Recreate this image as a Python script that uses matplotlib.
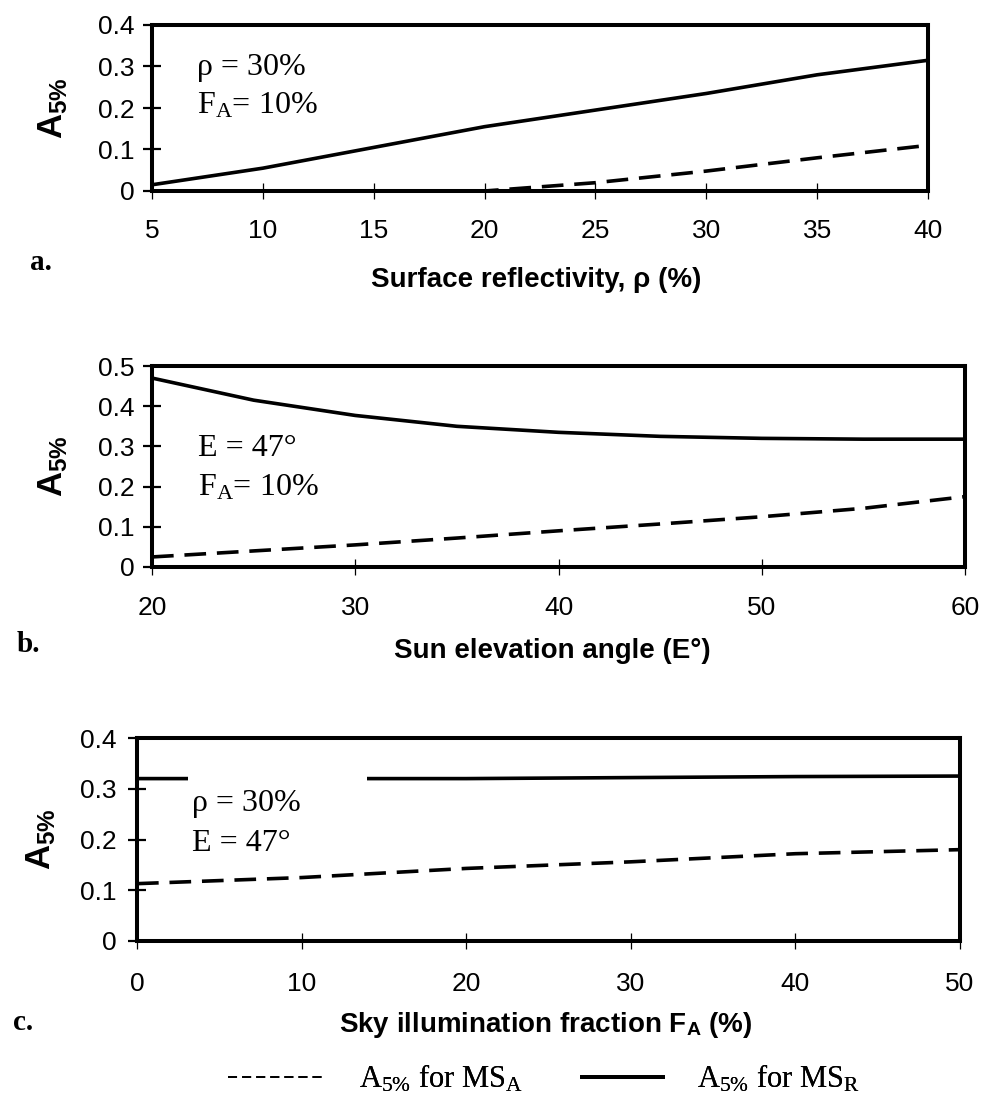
"""
A5% sensitivity curves for the MS_A and MS_R detection schemes:
(a) surface reflectivity, (b) sun elevation, (c) sky illumination fraction.
"""

import matplotlib
matplotlib.use("Agg")
import matplotlib.pyplot as plt
import matplotlib as mpl
from matplotlib.lines import Line2D
from matplotlib.patches import Rectangle
from matplotlib.ticker import FuncFormatter

mpl.rcParams.update({
    'font.family': 'Liberation Sans',
    'mathtext.fontset': 'custom',
    'mathtext.rm': 'Liberation Serif',
    'mathtext.it': 'Liberation Serif:italic',
    'mathtext.bf': 'Liberation Sans:bold',
    'mathtext.sf': 'Liberation Sans',
    'axes.linewidth': 2.9,
})

# (a) surface reflectivity, rho (%)
refl = [5, 10, 15, 20, 25, 30, 35, 40]
refl_ms_r = [0.015, 0.055, 0.105, 0.155, 0.195, 0.235, 0.28, 0.315]
refl_ms_a = [0.0, 0.0, 0.0, 0.0, 0.02, 0.048, 0.08, 0.11]

# (b) sun elevation angle (deg)
elev = [20, 25, 30, 35, 40, 45, 50, 55, 60]
elev_ms_r = [0.47, 0.415, 0.377, 0.35, 0.335, 0.325, 0.32, 0.318, 0.318]
elev_ms_a = [0.025, 0.04, 0.055, 0.072, 0.09, 0.107, 0.125, 0.146, 0.175]

# (c) sky illumination fraction F_A (%)
sky = [0, 10, 20, 30, 40, 50]
sky_ms_r = [0.32, 0.32, 0.32, 0.322, 0.324, 0.325]
sky_ms_a = [0.113, 0.125, 0.143, 0.156, 0.172, 0.18]

W, H = 983, 1104
SERIF = 'Liberation Serif'
DASH = (6, 3)
NOTE_SIZE = 23


def fmt_tick(v, pos):
    return '0' if abs(v) < 1e-9 else f'{v:.1f}'


def style_axes(ax, xticks, ymax, ypad, xpad):
    ax.set_xlim(xticks[0], xticks[-1])
    ax.set_ylim(0, ymax)
    ax.set_xticks(xticks)
    ax.set_yticks([round(0.1 * i, 1) for i in range(int(round(ymax * 10)) + 1)])
    ax.yaxis.set_major_formatter(FuncFormatter(fmt_tick))
    ax.tick_params(axis='y', direction='inout', length=13, width=1.6,
                   pad=ypad, labelsize=19)
    ax.tick_params(axis='x', direction='inout', length=12, width=0.9,
                   pad=xpad, labelsize=19)
    for sp in ax.spines.values():
        sp.set_color('black')
        sp.set_zorder(3.5)


def draw_curves(ax, x, ms_a, ms_r):
    ax.plot(x, ms_r, color='black', lw=2.6, solid_capstyle='butt')
    ax.plot(x, ms_a, color='black', lw=2.6, dashes=DASH)


fig = plt.figure(figsize=(W / 100, H / 100), dpi=100)

ax_a = fig.add_axes([152 / W, 1 - 191 / H, 776 / W, 166 / H])
ax_b = fig.add_axes([152 / W, 1 - 567 / H, 813 / W, 201 / H])
ax_c = fig.add_axes([137 / W, 1 - 941 / H, 823 / W, 203 / H])

# panel a
draw_curves(ax_a, refl, refl_ms_a, refl_ms_r)
style_axes(ax_a, [5, 10, 15, 20, 25, 30, 35, 40], 0.4, 6, 14)
ax_a.text(0.058, 0.70, 'ρ = 30%', family=SERIF, fontsize=NOTE_SIZE,
          transform=ax_a.transAxes, va='baseline')
ax_a.text(0.058, 0.467, r'F$_{\rm A}$= 10%', family=SERIF, fontsize=NOTE_SIZE,
          transform=ax_a.transAxes, va='baseline')
ax_a.set_xlabel('Surface reflectivity, ρ (%)', fontsize=20, fontweight='bold')
ax_a.xaxis.set_label_coords(0.495, -0.46)

# panel b
draw_curves(ax_b, elev, elev_ms_a, elev_ms_r)
style_axes(ax_b, [20, 30, 40, 50, 60], 0.5, 6, 15)
ax_b.text(0.057, 0.552, 'E = 47°', family=SERIF, fontsize=NOTE_SIZE,
          transform=ax_b.transAxes, va='baseline')
ax_b.text(0.057, 0.355, r'F$_{\rm A}$= 10%', family=SERIF, fontsize=NOTE_SIZE,
          transform=ax_b.transAxes, va='baseline')
ax_b.set_xlabel('Sun elevation angle (E°)', fontsize=20, fontweight='bold')
ax_b.xaxis.set_label_coords(0.493, -0.353)

# panel c
draw_curves(ax_c, sky, sky_ms_a, sky_ms_r)
style_axes(ax_c, [0, 10, 20, 30, 40, 50], 0.4, 8, 16)
# white backing behind the condition labels
ax_c.add_patch(Rectangle((0.062, 0.39), 0.217, 0.47, transform=ax_c.transAxes,
                         facecolor='white', edgecolor='none', zorder=3))
ax_c.text(0.067, 0.639, 'ρ = 30%', family=SERIF, fontsize=NOTE_SIZE,
          transform=ax_c.transAxes, va='baseline', zorder=4)
ax_c.text(0.067, 0.444, 'E = 47°', family=SERIF, fontsize=NOTE_SIZE,
          transform=ax_c.transAxes, va='baseline', zorder=4)
ax_c.set_xlabel(r'Sky illumination fraction F$_{\mathbf{A}}$ (%)',
                fontsize=20, fontweight='bold')
ax_c.xaxis.set_label_coords(0.496, -0.34)

for ax, lx in [(ax_a, -0.106), (ax_b, -0.101), (ax_c, -0.096)]:
    ax.set_ylabel(r'$\mathbf{A_{5\%}}$', fontsize=25)
    ax.yaxis.set_label_coords(lx, 0.5)

# panel letters
for lbl, (px, py) in zip(['a.', 'b.', 'c.'], [(30, 263), (17, 645), (13, 1023)]):
    fig.text(px / W, 1 - py / H, lbl, family=SERIF, fontweight='bold',
             fontsize=21, va='center', ha='left')

# key below the panels: one entry per scheme, each with its own sample length
key_entries = [
    (Line2D([], [], color='black', lw=1.3, dashes=(5, 2.8)),
     r'A$_{5\%}$ for MS$_{\rm A}$', 228, 3.2),
    (Line2D([], [], color='black', lw=2.8),
     r'A$_{5\%}$ for MS$_{\rm R}$', 582, 2.65),
]
for handle, text, px, hlen in key_entries:
    leg = fig.legend([handle], [text], loc='center left',
                     bbox_to_anchor=(px / W, 1 - 1079 / H), frameon=False,
                     prop={'family': SERIF, 'size': 22}, handlelength=hlen,
                     handletextpad=1.1, borderpad=0, borderaxespad=0)
    fig.add_artist(leg)

fig.savefig('out.png', dpi=100, facecolor='white')
